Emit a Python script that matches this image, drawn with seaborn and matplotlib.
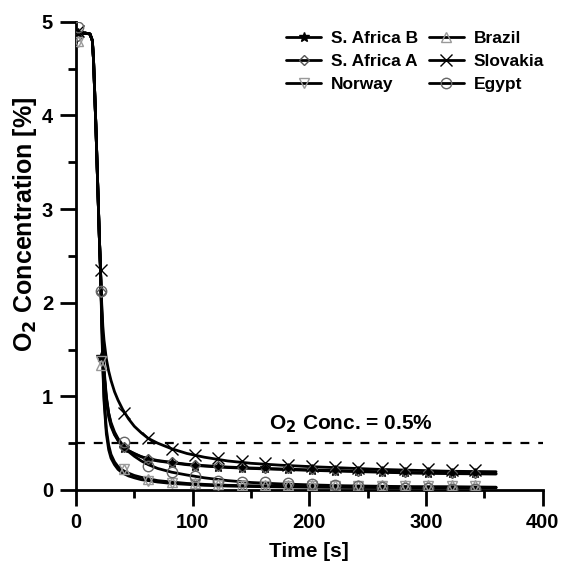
import matplotlib
matplotlib.use("Agg")
import matplotlib.pyplot as plt
import seaborn as sns
import pandas as pd
from matplotlib.lines import Line2D
from matplotlib.ticker import MultipleLocator

sns.set_style("ticks")
plt.rcParams['font.family'] = ['Liberation Sans', 'DejaVu Sans']
plt.rcParams['font.weight'] = 'bold'
for k in ['text.color', 'axes.labelcolor', 'xtick.color', 'ytick.color', 'axes.edgecolor']:
    plt.rcParams[k] = 'black'

series = ["S. Africa B", "S. Africa A", "Norway", "Brazil", "Slovakia", "Egypt"]

line_t = [0, 4, 8, 12, 14, 15, 16, 17, 18, 19, 20, 21, 22, 23, 24, 26, 28, 30, 33, 36,
          40, 45, 50, 56, 62, 70, 82, 95, 110, 130, 150, 175, 200, 230, 260, 290, 320, 360]
head = [4.88, 4.88, 4.88, 4.87, 4.80, 4.60, 4.25, 3.90, 3.50, 3.10, 2.70, 2.35]

line_sab = head + [1.90, 1.50, 1.25, 0.95, 0.78, 0.68, 0.59, 0.53, 0.47, 0.42, 0.39, 0.355, 0.33,
                   0.31, 0.29, 0.27, 0.255, 0.24, 0.23, 0.22, 0.21, 0.20, 0.19, 0.18, 0.175, 0.17]
line_saa = head + [1.95, 1.55, 1.30, 1.00, 0.82, 0.70, 0.60, 0.53, 0.47, 0.42, 0.385, 0.355, 0.335,
                   0.315, 0.295, 0.275, 0.26, 0.245, 0.235, 0.225, 0.215, 0.205, 0.195, 0.185, 0.18, 0.175]
line_nor = head + [1.80, 1.30, 0.95, 0.60, 0.43, 0.34, 0.27, 0.22, 0.18, 0.15, 0.13, 0.11, 0.10,
                   0.085, 0.07, 0.06, 0.05, 0.042, 0.037, 0.033, 0.03, 0.028, 0.026, 0.025, 0.024, 0.023]
line_bra = head + [1.85, 1.35, 1.00, 0.65, 0.48, 0.38, 0.30, 0.25, 0.21, 0.18, 0.155, 0.135, 0.12,
                   0.10, 0.085, 0.07, 0.06, 0.05, 0.045, 0.04, 0.035, 0.033, 0.03, 0.03, 0.028, 0.027]
line_slo = head + [2.00, 1.75, 1.60, 1.40, 1.27, 1.17, 1.05, 0.96, 0.86, 0.76, 0.68, 0.61, 0.55,
                   0.50, 0.44, 0.39, 0.35, 0.31, 0.285, 0.265, 0.25, 0.235, 0.22, 0.21, 0.20, 0.195]
line_egy = head + [1.90, 1.50, 1.25, 0.98, 0.82, 0.72, 0.62, 0.55, 0.48, 0.41, 0.36, 0.31, 0.27,
                   0.23, 0.19, 0.16, 0.13, 0.10, 0.08, 0.065, 0.055, 0.045, 0.04, 0.035, 0.035, 0.03]

mk_t = [2, 21, 41, 62, 82, 102, 122, 142, 162, 182, 202, 222, 242, 262, 282, 302, 322, 342]
mk_sab = [4.88, 1.42, 0.45, 0.32, 0.29, 0.26, 0.25, 0.24, 0.23, 0.22, 0.21, 0.20, 0.20, 0.19, 0.19, 0.18, 0.18, 0.18]
mk_saa = [4.85, 2.12, 0.46, 0.33, 0.30, 0.27, 0.26, 0.25, 0.24, 0.23, 0.22, 0.21, 0.20, 0.20, 0.19, 0.19, 0.18, 0.18]
mk_nor = [4.78, 1.38, 0.22, 0.10, 0.07, 0.06, 0.05, 0.04, 0.04, 0.04, 0.04, 0.04, 0.04, 0.04, 0.04, 0.04, 0.04, 0.04]
mk_bra = [4.80, 1.33, 0.22, 0.12, 0.09, 0.07, 0.06, 0.05, 0.05, 0.05, 0.05, 0.05, 0.05, 0.05, 0.05, 0.05, 0.05, 0.05]
mk_slo = [4.90, 2.35, 0.82, 0.55, 0.44, 0.37, 0.34, 0.31, 0.29, 0.27, 0.26, 0.25, 0.24, 0.23, 0.22, 0.22, 0.21, 0.21]
mk_egy = [4.95, 2.13, 0.51, 0.26, 0.19, 0.15, 0.10, 0.09, 0.08, 0.07, 0.06, 0.05, 0.04, 0.03, 0.02, 0.02, 0.01, 0.01]

threshold = 0.5

lines = [line_sab, line_saa, line_nor, line_bra, line_slo, line_egy]
marks = [mk_sab, mk_saa, mk_nor, mk_bra, mk_slo, mk_egy]
styles = [
    dict(marker='*', mfc='black', mec='black', ms=7.5),
    dict(marker='D', mfc='none', mec='#555555', ms=5.5),
    dict(marker='v', mfc='none', mec='#999999', ms=6.5),
    dict(marker='^', mfc='none', mec='#999999', ms=6.5),
    dict(marker='x', mfc='none', mec='black', ms=8),
    dict(marker='o', mfc='none', mec='#666666', ms=7.5),
]

fig = plt.figure(figsize=(5.63, 5.61), dpi=100)
ax = fig.add_axes([0.135, 0.1266, 0.829, 0.8344])

for name, lv, mv, st in zip(series, lines, marks, styles):
    df = pd.DataFrame({"t": line_t, "v": lv})
    sns.lineplot(data=df, x="t", y="v", ax=ax, color="black", lw=2.0, sort=False)
    ax.plot(mk_t, mv, ls='none', mew=1.0, zorder=3, **st)

ax.axhline(threshold, color='black', lw=1.6, ls=(0, (4, 4)), xmax=1.0)
ax.text(236, 0.585, r"O$_\mathbf{2}$ Conc. = 0.5%", ha='center', va='bottom',
        fontsize=15, fontweight='bold')

ax.set_xlim(0, 400)
ax.set_ylim(0, 5)
ax.xaxis.set_major_locator(MultipleLocator(100))
ax.xaxis.set_minor_locator(MultipleLocator(50))
ax.yaxis.set_major_locator(MultipleLocator(1))
ax.yaxis.set_minor_locator(MultipleLocator(0.5))
ax.tick_params(which='major', length=11.5, width=2, labelsize=14.5, pad=5, direction='out')
ax.tick_params(which='minor', length=6, width=2, direction='out')
for lab in ax.get_xticklabels() + ax.get_yticklabels():
    lab.set_fontweight('bold')
for s in ['top', 'right']:
    ax.spines[s].set_visible(False)
for s in ['left', 'bottom']:
    ax.spines[s].set_linewidth(2)
    ax.spines[s].set_color('black')

ax.set_xlabel("Time [s]", fontsize=15, fontweight='bold', labelpad=7)
ax.set_ylabel(r"O$_\mathbf{2}$ Concentration [%]", fontsize=18, fontweight='bold', labelpad=5)
ax.yaxis.set_label_coords(-0.079, 0.568)

handles = [Line2D([0], [0], color='black', lw=2, mew=1.0, **st) for st in styles]
leg = ax.legend(handles, series, ncol=2, loc='upper right', bbox_to_anchor=(1.037, 1.014),
                frameon=False, prop={'weight': 'bold', 'size': 12.5}, handlelength=2.0,
                columnspacing=0.6, handletextpad=0.6, labelspacing=0.45)

fig.savefig("out.png", dpi=100)
